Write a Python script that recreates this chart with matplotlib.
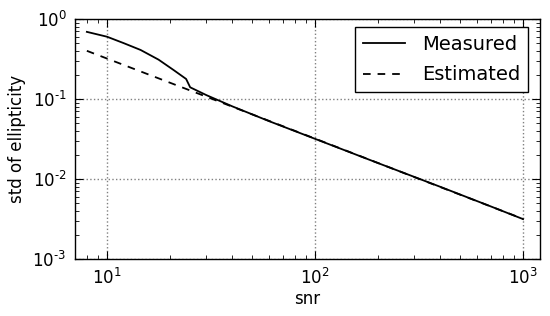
import matplotlib
matplotlib.use('Agg')
import matplotlib.pyplot as plt
from matplotlib.ticker import FuncFormatter
import numpy as np

# measured std of ellipticity vs snr
snr_meas = [8, 10, 12, 14.5, 17.7, 20.9, 24, 25.1, 30, 40, 60, 100, 200, 400, 700, 1000]
std_meas = [0.69, 0.60, 0.50, 0.41, 0.31, 0.23, 0.178, 0.14, 0.112, 0.081, 0.053, 0.0318, 0.0159, 0.0080, 0.00455, 0.00316]

# estimated
snr_est = [8, 30, 100, 300, 1000]
std_est = [0.40, 0.107, 0.0320, 0.0106, 0.00318]

plt.rcParams['font.family'] = 'DejaVu Sans'
plt.rcParams['mathtext.fontset'] = 'dejavusans'
plt.rcParams['lines.scale_dashes'] = False


def pow10(v, pos):
    e = int(round(np.log10(v)))
    if e < 0:
        return r'$\mathdefault{10^{\text{-}%d}}$' % (-e)
    return r'$\mathdefault{10^{%d}}$' % e


fig = plt.figure(figsize=(5.5, 3.16), dpi=100)
ax = fig.add_axes([0.136, 0.18, 0.845, 0.76])

ax.plot(snr_meas, std_meas, color='k', linestyle='-', linewidth=1.3, label='Measured')
ax.plot(snr_est, std_est, color='k', linestyle='--', dashes=(5.5, 5), linewidth=1.3, label='Estimated')

ax.set_xscale('log')
ax.set_yscale('log')
ax.set_xlim(7, 1200)
ax.set_ylim(1e-3, 1)
ax.xaxis.set_major_formatter(FuncFormatter(pow10))
ax.yaxis.set_major_formatter(FuncFormatter(pow10))

ax.grid(True, which='major', color='0.5', linestyle=':', linewidth=1.0)
ax.tick_params(which='both', direction='in', top=True, right=True, labelsize=12)
ax.tick_params(which='major', length=6, width=0.8, pad=6)
ax.tick_params(which='minor', length=3, width=0.6)
for s in ax.spines.values():
    s.set_linewidth(1.0)

ax.set_xlabel('snr', fontsize=12, labelpad=2)
ax.set_ylabel('std of ellipticity', fontsize=12, labelpad=5)

leg = ax.legend(loc='upper right', bbox_to_anchor=(0.976, 0.967), borderaxespad=0,
                fontsize=14, fancybox=False, framealpha=1, edgecolor='k',
                handlelength=2.15, borderpad=0.4, labelspacing=0.6, handletextpad=0.9)
leg.get_frame().set_linewidth(1.0)

fig.savefig('out.png', dpi=100, facecolor='white')
